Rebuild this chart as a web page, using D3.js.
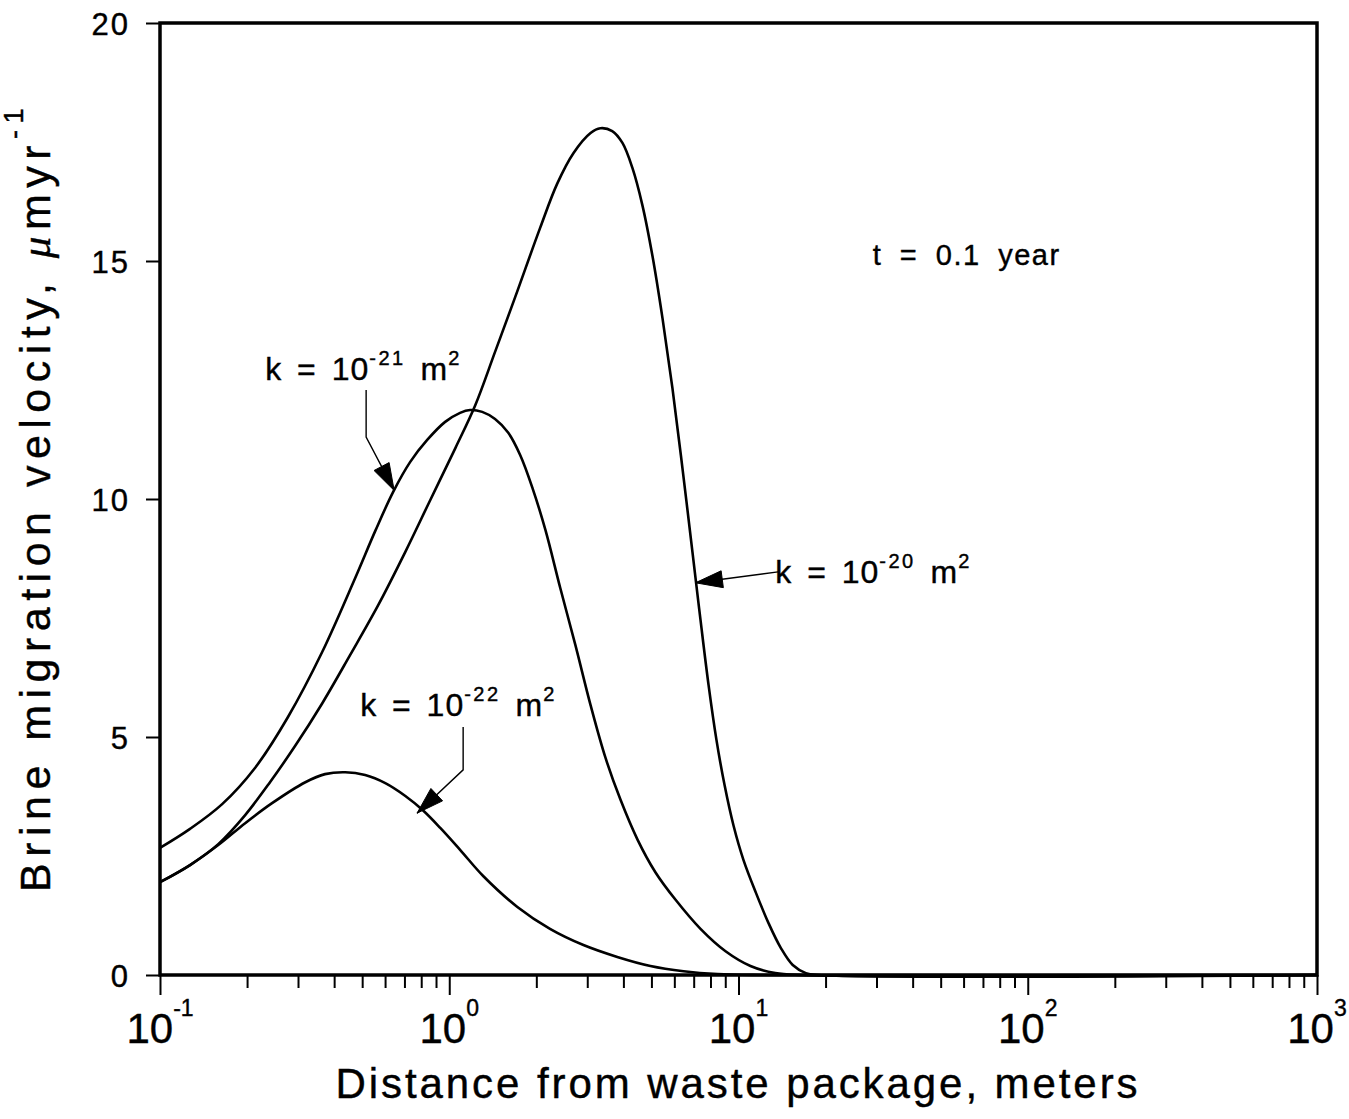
<!DOCTYPE html>
<html>
<head>
<meta charset="utf-8">
<script src="https://cdn.jsdelivr.net/npm/d3@7"></script>
<style>
  html, body { margin: 0; padding: 0; background: #fff; }
  svg { display: block; }
  text { font-family: "Liberation Sans", Arial, Helvetica, sans-serif; fill: #000; white-space: pre; stroke: #000; stroke-width: 0.4px; }
</style>
</head>
<body>
<svg id="chart" width="1349" height="1119"></svg>
<script>
// ---------------- data ----------------
const xTickValues = [0.1, 1, 10, 100, 1000];
const xTickExp    = ["-1", "0", "1", "2", "3"];
const yTickValues = [0, 5, 10, 15, 20];

// k = 1e-21 m^2
const k21X = [0.1, 0.127, 0.164, 0.213, 0.277, 0.364, 0.473, 0.555, 0.640, 0.733, 0.839, 0.968, 1.09, 1.18, 1.30, 1.44, 1.60, 1.76, 1.94, 2.15, 2.42, 2.73, 3.08, 3.47, 3.91, 4.48, 5.16, 6.06, 7.39, 9.02, 11.0, 13.4, 16.4, 1000];
const k21V = [2.67, 3.07, 3.59, 4.35, 5.42, 6.79, 8.34, 9.33, 10.15, 10.78, 11.24, 11.62, 11.81, 11.87, 11.83, 11.68, 11.39, 10.92, 10.23, 9.35, 8.13, 6.93, 5.67, 4.56, 3.68, 2.84, 2.16, 1.58, 0.97, 0.50, 0.19, 0.04, 0, 0];

// k = 1e-20 m^2
const k20X = [0.1, 0.127, 0.159, 0.197, 0.240, 0.293, 0.364, 0.454, 0.568, 0.705, 0.860, 1.05, 1.23, 1.44, 1.69, 2.06, 2.36, 2.69, 3.08, 3.33, 3.66, 3.97, 4.30, 4.65, 5.04, 5.46, 5.91, 6.40, 6.93, 7.39, 7.88, 8.39, 8.95, 9.62, 10.4, 11.5, 12.7, 14.0, 15.4, 17.1, 18.9, 1000];
const k20V = [1.95, 2.31, 2.75, 3.36, 4.05, 4.81, 5.71, 6.72, 7.77, 8.89, 9.98, 11.07, 11.97, 13.09, 14.24, 15.69, 16.62, 17.27, 17.69, 17.79, 17.73, 17.48, 16.95, 16.18, 15.11, 13.80, 12.33, 10.65, 8.89, 7.46, 6.09, 4.94, 3.99, 3.13, 2.42, 1.72, 1.09, 0.57, 0.21, 0.04, 0, 0];

// k = 1e-22 m^2
const k22X = [0.1, 0.127, 0.159, 0.197, 0.244, 0.318, 0.372, 0.437, 0.512, 0.601, 0.705, 0.807, 0.931, 1.09, 1.31, 1.72, 2.23, 2.91, 3.81, 4.96, 6.46, 8.46, 11.9, 1000];
const k22V = [1.95, 2.31, 2.73, 3.19, 3.61, 4.05, 4.22, 4.26, 4.20, 4.03, 3.76, 3.47, 3.09, 2.63, 2.08, 1.43, 0.97, 0.63, 0.38, 0.19, 0.08, 0.02, 0, 0];

const seriesExp = ["-21", "-20", "-22"];

// annotation anchors (data coordinates)
const labelX   = [0.231, 13.4, 0.492];
const labelV   = [12.5, 8.24, 5.44];
const leaderX  = [[0.516, 0.516, 0.645], [13.7, 7.10], [1.117, 1.117, 0.774]];
const leaderV  = [[12.29, 11.30, 10.18], [8.47, 8.24], [5.21, 4.31, 3.40]];
const timeLabel = "t = 0.1 year";
const timeX = 29.1, timeV = 14.92;

const xTitle = "Distance from waste package, meters";
const yTitle = "Brine migration velocity, ";

// ---------------- drawing ----------------
const svg = d3.select("#chart");
const L = 160, R = 1317, T = 23, B = 975;

const x = d3.scaleLog().domain([0.1, 1000]).range([L, R]);
const y = d3.scaleLinear().domain([0, 20]).range([B, T]);

// minor x ticks
const minorVals = x.ticks().filter(v => !xTickValues.some(m => Math.abs(m - v) / m < 1e-9));
const gMinor = svg.append("g").attr("transform", `translate(0,${B})`)
  .call(d3.axisBottom(x).tickValues(minorVals).tickSize(13).tickFormat(""));
const gMajor = svg.append("g").attr("transform", `translate(0,${B})`)
  .call(d3.axisBottom(x).tickValues(xTickValues).tickSize(20).tickFormat(""));
[gMinor, gMajor].forEach(g => {
  g.select(".domain").remove();
  g.selectAll(".tick line").attr("stroke", "#000").attr("stroke-width", 2);
});

// x tick labels with superscripts
xTickValues.forEach((v, i) => {
  const t = svg.append("text")
    .attr("x", x(v)).attr("y", 1043)
    .attr("text-anchor", "middle")
    .style("font-size", "42px");
  t.append("tspan").text("10");
  t.append("tspan").attr("dy", -27).style("font-size", "23px").text(xTickExp[i]);
});

// y axis ticks
const gY = svg.append("g").attr("transform", `translate(${L},0)`)
  .call(d3.axisLeft(y).tickValues(yTickValues).tickSize(14).tickPadding(16).tickFormat(d3.format("d")));
gY.select(".domain").remove();
gY.selectAll(".tick line").attr("stroke", "#000").attr("stroke-width", 2);
gY.selectAll(".tick text")
  .style("font-size", "31px")
  .style("letter-spacing", "2px")
  .style("font-family", '"Liberation Sans", Arial, sans-serif')
  .attr("fill", "#000")
  .attr("dy", "0.36em");

// frame
svg.append("rect")
  .attr("x", L).attr("y", T).attr("width", R - L).attr("height", B - T)
  .attr("fill", "none").attr("stroke", "#000").attr("stroke-width", 3.5);

// curves
const line = d3.line().x(d => x(d[0])).y(d => y(d[1])).curve(d3.curveCatmullRom.alpha(0.5));
[[k21X, k21V], [k20X, k20V], [k22X, k22V]].forEach(([xs, vs]) => {
  svg.append("path")
    .datum(d3.zip(xs, vs))
    .attr("d", line)
    .attr("fill", "none")
    .attr("stroke", "#000")
    .attr("stroke-width", 2.6)
    .attr("stroke-linejoin", "round");
});

// annotations
function arrowHead(from, tip, len, hw) {
  const dx = tip[0] - from[0], dy = tip[1] - from[1];
  const d = Math.hypot(dx, dy);
  const ux = dx / d, uy = dy / d;
  const bx = tip[0] - ux * len, by = tip[1] - uy * len;
  const px = -uy, py = ux;
  return [tip, [bx + px * hw, by + py * hw], [bx - px * hw, by - py * hw]];
}

seriesExp.forEach((e, i) => {
  const t = svg.append("text")
    .attr("x", x(labelX[i])).attr("y", y(labelV[i]))
    .style("font-size", "32px")
    .style("letter-spacing", "1px")
    .style("word-spacing", "5px");
  t.append("tspan").text("k = 10");
  t.append("tspan").attr("dy", -15).style("font-size", "20px").style("letter-spacing", "2.5px").text(e);
  t.append("tspan").attr("dy", 15).text(" m");
  t.append("tspan").attr("dy", -15).style("font-size", "20px").text("2");

  const pts = leaderX[i].map((lx, j) => [x(lx), y(leaderV[i][j])]);
  svg.append("path")
    .attr("d", d3.line()(pts))
    .attr("fill", "none").attr("stroke", "#000").attr("stroke-width", 1.4);
  const head = arrowHead(pts[pts.length - 2], pts[pts.length - 1], 27, 8.5);
  svg.append("path")
    .attr("d", d3.line()(head) + "Z")
    .attr("fill", "#000").attr("stroke", "#000").attr("stroke-width", 1);
});

svg.append("text")
  .attr("x", x(timeX)).attr("y", y(timeV))
  .style("font-size", "29px")
  .style("letter-spacing", "1.5px")
  .style("word-spacing", "8px")
  .text(timeLabel);

// axis titles
function fitWidth(sel, target) {
  const node = sel.node();
  const w = node.getComputedTextLength();
  const n = node.textContent.length;
  sel.style("letter-spacing", ((target - w) / n) + "px");
}

const xt = svg.append("text")
  .attr("x", 738).attr("y", 1098)
  .attr("text-anchor", "middle")
  .style("font-size", "42px")
  .text(xTitle);
fitWidth(xt, 805);

const yt = svg.append("text")
  .attr("transform", "translate(50,497) rotate(-90)")
  .attr("text-anchor", "middle")
  .style("font-size", "43px");
yt.append("tspan").text(yTitle);
yt.append("tspan").style("font-family", '"Liberation Serif", serif').style("font-style", "italic").text("\u03BC");
yt.append("tspan").text("myr");
yt.append("tspan").attr("dy", -27).style("font-size", "27px").text("-1");
fitWidth(yt, 790);
</script>
</body>
</html>
